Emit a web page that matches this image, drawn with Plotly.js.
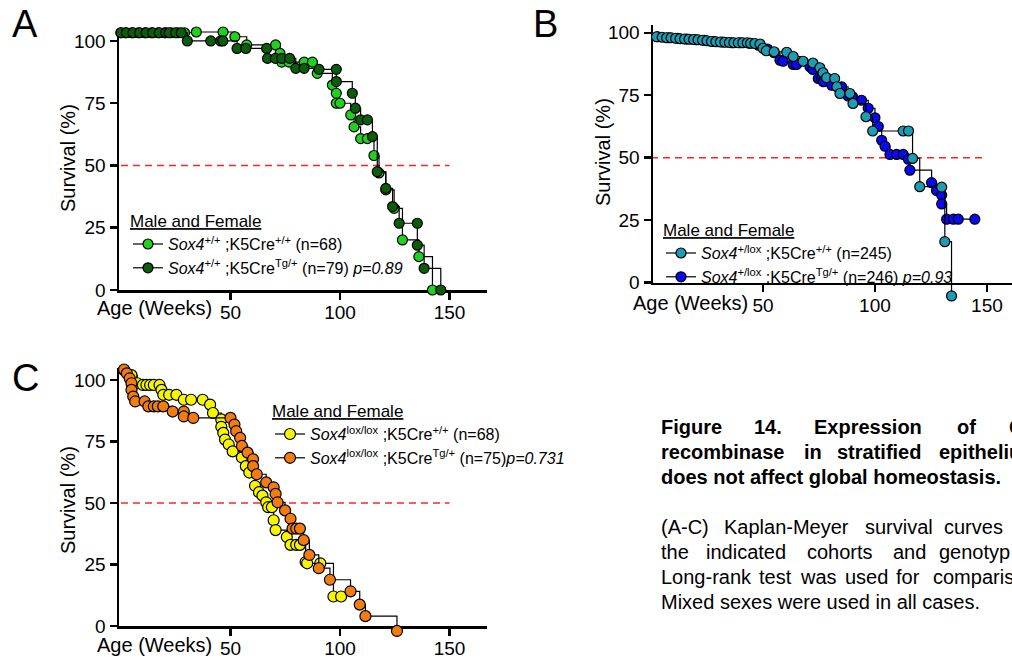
<!DOCTYPE html>
<html>
<head>
<meta charset="utf-8">
<script src="https://cdn.plot.ly/plotly-3.0.1.min.js"></script>
<style>
html,body{margin:0;padding:0;background:#fff;overflow:hidden;}
#chart{width:1012px;height:661px;}
</style>
</head>
<body>
<div id="chart"></div>
<script>
// ---------- Panel A : Sox4+/+ ----------
const aCtrlX = [0,2,5,8,11,14,17,20,23,26,29,34.4,46.6,52,57.4,70.6,72.6,73.4,76.7,83.6,87.4,89.6,96.5,98.3,98.3,100,104.9,106.4,109.4,112.5,115.5,117.8,120.9,124.7,128.5,136,142.2];
const aCtrlY = [103.3,103.3,103.3,103.3,103.3,103.3,103.3,103.3,103.3,103.3,103.3,103.6,103.6,101.7,98.4,98.4,95,91.5,91.5,91.5,91.5,87,82.3,79,75,75,70.3,65.5,60.8,60.8,54,47,40.2,32.8,20.1,13.4,0];
const aCreX = [0,2.5,5.5,8.5,11.5,14.5,17.5,20.5,22,25,27.5,30.3,41,45.5,46.5,53,57,66.5,66.9,70.5,73.4,77,79.8,83.6,90.4,98.3,98.3,105.6,107,109.4,112.5,114.8,117,120.9,124,127,135.3,135.3,138.4,146];
const aCreY = [103.3,103.3,103.3,103.3,103.3,103.3,103.3,103.3,103.3,103.3,103.3,100,100,100,100,97,97,97,93,93,93,93,89,89,88.6,88.6,83.7,79,73,68.3,68.3,61.6,47.5,40.8,33.5,26.8,26.8,18,8.7,0];

// ---------- Panel B : Sox4+/lox ----------
const bCtrlX = [2.5,5,7,9,11,13,15,17,19,21,23,25,27,29,31,33,35,37,39,41,43,44.5,46.4,48.7,50,51.5,55,60.6,63.5,67.9,72.3,75.4,76.8,78.4,82,83,84.4,88.8,90.2,96,99,112.6,115,116.8,120,129.8,131.2,134.2];
const bCtrlY = [98.4,98.2,98,98,97.8,97.6,97.5,97.4,97.3,97.2,97,96.8,96.5,96.4,96.3,96.2,96.1,96,96,96,96,95.8,95.7,95.5,93.8,92.8,92.4,92.2,90.5,88.6,87.9,86,84,82,81.7,78.4,75.7,75.7,71.7,66.4,60.7,60.7,60.7,49.7,38.4,38.2,16.4,-5.3];
const bCreX = [3,8,12,16,20,24,28,32,36,40,44,48,52,55,57.6,59,63.5,65,71,72.3,74.7,76.2,77,80.7,85.1,88,90,94,97,100,101.5,103,104.5,106.7,109.7,112.6,114.9,115.6,125.3,127.5,129.8,129.8,132,135,137.2,144.6];
const bCreY = [98.4,98,97.8,97.5,97.2,97,96.5,96.3,96,96,95.8,95,93.5,92,89,88.6,87.3,87.3,86.4,85.3,81.7,81.5,80.4,79,78.4,74.7,74.4,73,69.8,66,62.5,57,54.6,51.3,51.3,51.3,49.4,45,40,36.9,35,31.5,25.4,25.4,25.4,25.4];

// ---------- Panel C : Sox4lox/lox ----------
const cCtrlX = [1.4,4.8,7.4,10,11.6,13.3,15,17.6,18.5,19.3,22,25.3,28.7,32,37.3,40.7,42,45.8,45.8,46.7,47.5,49.2,51,55.2,57,58.6,61.2,63,64.6,66.3,67.2,68.9,69.7,70.6,75.7,77.4,80,81.7,84.3,85,91,97,100.5];
const cCtrlY = [104,102,98.7,98,98,98,98,98,96,94,94,94,92,92,92,90,86.6,84,81,78.5,75.8,73.8,71,68.5,65,62.4,57,54.4,53,50.3,48.3,48.3,43,39,36.2,33,33,33,26,25.5,25.5,12,12];
const cCreX = [1.4,2.7,4,4.8,4.8,5.6,6.5,10.8,12.5,15,16.8,19.3,23.6,28.7,28.7,33,50,51.8,52.6,54.4,55.2,57.8,60.3,60.3,62,66.3,69.7,70.6,71.5,74.9,77.4,78.3,80,81.7,83.4,86,90.3,95.4,104.8,109,111.6,126];
const cCreY = [104.3,102.7,100.7,98.7,96,93.3,91.3,91.3,89.3,89.3,89.3,89.3,87.2,87.2,85.2,84.6,84.6,81.9,79.2,76.5,73.2,70.5,67.8,65,61.7,58.4,56.4,53.7,50.3,47,43.6,39.6,39.6,39.6,34.9,28.9,23.5,18.8,14.1,8.7,4,-2];

// median survival reference line
const medianX = [0, 150];
const medianY = [50, 50];

const yTicks = [0, 25, 50, 75, 100];
const xTicks = [50, 100, 150];

const names = {
  aCtrl: '<i>Sox4</i><sup>+/+</sup> ;K5Cre<sup>+/+</sup> (n=68)',
  aCre:  '<i>Sox4</i><sup>+/+</sup> ;K5Cre<sup>Tg/+</sup> (n=79) <i>p=0.89</i>',
  bCtrl: '<i>Sox4</i><sup>+/lox</sup> ;K5Cre<sup>+/+</sup> (n=245)',
  bCre:  '<i>Sox4</i><sup>+/lox</sup> ;K5Cre<sup>Tg/+</sup> (n=246) <i>p=0.93</i>',
  cCtrl: '<i>Sox4</i><sup>lox/lox</sup> ;K5Cre<sup>+/+</sup> (n=68)',
  cCre:  '<i>Sox4</i><sup>lox/lox</sup> ;K5Cre<sup>Tg/+</sup> (n=75)<i>p=0.731</i>'
};

const FONT = 'Liberation Sans, Arial, Helvetica, sans-serif';
const W = 1012, H = 661;
const px = v => v / W;
const py = v => 1 - v / H;

// visible frames: pixel box + data range
const frames = {
  A: {l: 119, r: 487, b: 290, t: 33, xr: [-0.9, 167.1], yr: [0, 103.2]},
  B: {l: 653, r: 1012, b: 282.7, t: 25, xr: [0.9, 161.2], yr: [0, 103.1]},
  C: {l: 119, r: 487, b: 626, t: 368, xr: [-0.9, 167.1], yr: [0, 104.9]}
};

function km(x, y, name, color, xa, ya, leg, size, rank) {
  return {
    type: 'scatter', mode: 'lines+markers', x: x, y: y, name: name,
    xaxis: xa, yaxis: ya, legend: leg, legendrank: rank,
    line: {color: '#000', width: 1.2, shape: 'hv'},
    marker: {color: color, size: size, line: {color: '#000', width: 1.2}},
    cliponaxis: false, hoverinfo: 'skip'
  };
}
function med(xa, ya) {
  return {type: 'scatter', mode: 'lines', x: medianX, y: medianY, xaxis: xa, yaxis: ya,
    line: {color: '#ff2424', width: 1.6, dash: '7px,5px'}, showlegend: false, hoverinfo: 'skip', cliponaxis: false};
}

const traces = [
  med('x', 'y'), med('x2', 'y2'), med('x3', 'y3'),
  km(aCtrlX, aCtrlY, names.aCtrl, '#1ed21e', 'x4', 'y4', 'legend', 10, 1),
  km(aCreX, aCreY, names.aCre, '#0b5c0b', 'x4', 'y4', 'legend', 10, 2),
  km(bCreX, bCreY, names.bCre, '#0a0af2', 'x5', 'y5', 'legend2', 10, 2),
  km(bCtrlX, bCtrlY, names.bCtrl, '#1c9db3', 'x5', 'y5', 'legend2', 10, 1),
  km(cCtrlX, cCtrlY, names.cCtrl, '#f6f600', 'x6', 'y6', 'legend3', 11, 1),
  km(cCreX, cCreY, names.cCre, '#f27c12', 'x6', 'y6', 'legend3', 11, 2)
];

const tickFont = {family: FONT, size: 19, color: '#000'};
function xax(f, anchor) {
  return {domain: [px(f.l), px(f.r)], range: f.xr, tickvals: xTicks, ticks: 'outside', ticklen: 7, tickwidth: 2.5,
    tickcolor: '#000', showline: true, linewidth: 2.5, linecolor: '#000', showgrid: false,
    zeroline: false, tickfont: tickFont, ticklabelstandoff: -3, anchor: anchor, fixedrange: true};
}
function yax(f, anchor) {
  return {domain: [py(f.b), py(f.t)], range: f.yr, tickvals: yTicks, ticks: 'outside', ticklen: 7, tickwidth: 2.5,
    tickcolor: '#000', showline: true, linewidth: 2.5, linecolor: '#000', showgrid: false,
    zeroline: false, tickfont: tickFont, anchor: anchor, fixedrange: true};
}
// invisible data axes with identical scale but a wider box, so points just outside the frame still show
function hidX(f, anchor, ml, mr) {
  const k = (f.r - f.l) / (f.xr[1] - f.xr[0]);
  return {visible: false, anchor: anchor, fixedrange: true,
    domain: [px(f.l - ml), Math.min(1, px(f.r + mr))],
    range: [f.xr[0] - ml / k, f.xr[1] + (Math.min(W, f.r + mr) - f.r) / k]};
}
function hidY(f, anchor, mb, mt) {
  const k = (f.b - f.t) / (f.yr[1] - f.yr[0]);
  return {visible: false, anchor: anchor, fixedrange: true,
    domain: [py(f.b + mb), py(f.t - mt)],
    range: [f.yr[0] - mb / k, f.yr[1] + mt / k]};
}
function legendAt(x, y) {
  return {x: px(x), y: py(y), xanchor: 'left', yanchor: 'top', bgcolor: 'rgba(0,0,0,0)',
    borderwidth: 0, tracegroupgap: 0, traceorder: 'normal',
    font: {family: FONT, size: 16, color: '#000'},
    title: {text: 'Male and Female', font: {family: FONT, size: 17, color: '#000', lineposition: 'under'}}};
}

const ann = [];
function txt(t, x, y, size, opts) {
  ann.push(Object.assign({text: t, x: px(x), y: py(y), xref: 'paper', yref: 'paper', showarrow: false,
    xanchor: 'center', yanchor: 'middle', font: {family: FONT, size: size, color: '#000'}}, opts || {}));
}
// panel letters
txt('A', 25, 24, 38); txt('B', 545, 24, 38); txt('C', 25, 378, 38);
// axis titles
txt('Survival (%)', 68, 158, 20, {textangle: -90});
txt('Survival (%)', 603, 152, 20, {textangle: -90});
txt('Survival (%)', 68, 500, 20, {textangle: -90});
txt('Age (Weeks)', 154, 308, 20);
txt('Age (Weeks)', 690, 303, 20);
txt('Age (Weeks)', 154, 645, 20);

// caption (justified lines placed word by word)
const capLines = [
  {y: 426.7, b: true, w: [['Figure', 659.3], ['14.', 751.7], ['Expression', 812.3], ['of', 955], ['C', 1006.7]]},
  {y: 451.7, b: true, w: [['recombinase', 659.3], ['in', 801.7], ['stratified', 835], ['epitheliu', 936.7]]},
  {y: 476.7, b: true, w: [['does not affect global homeostasis.', 659.3]]},
  {y: 526.7, b: false, w: [['(A-C)', 659.3], ['Kaplan-Meyer', 721.7], ['survival', 863.3], ['curves', 941.7]]},
  {y: 551.7, b: false, w: [['the', 659.3], ['indicated', 704.3], ['cohorts', 805], ['and', 891], ['genotyp', 937.3]]},
  {y: 576.7, b: false, w: [['Long-rank', 659.3], ['test', 757], ['was', 798], ['used', 843], ['for', 894], ['comparis', 931]]},
  {y: 601.7, b: false, w: [['Mixed sexes were used in all cases.', 659.3]]}
];
capLines.forEach(l => l.w.forEach(w => {
  txt(l.b ? '<b>' + w[0] + '</b>' : w[0], w[1], l.y, 20, {xanchor: 'left'});
}));

const layout = {
  width: W, height: H, autosize: false,
  margin: {l: 0, r: 0, t: 0, b: 0, pad: 0},
  paper_bgcolor: '#fff', plot_bgcolor: 'rgba(0,0,0,0)',
  font: {family: FONT, color: '#000'},
  showlegend: true,
  xaxis: xax(frames.A, 'y'), yaxis: yax(frames.A, 'x'),
  xaxis2: xax(frames.B, 'y2'), yaxis2: yax(frames.B, 'x2'),
  xaxis3: xax(frames.C, 'y3'), yaxis3: yax(frames.C, 'x3'),
  xaxis4: hidX(frames.A, 'y4', 20, 20), yaxis4: hidY(frames.A, 'x4', 20, 20),
  xaxis5: hidX(frames.B, 'y5', 20, 0), yaxis5: hidY(frames.B, 'x5', 20, 20),
  xaxis6: hidX(frames.C, 'y6', 20, 20), yaxis6: hidY(frames.C, 'x6', 20, 20),
  legend: legendAt(128, 205),
  legend2: legendAt(661, 214),
  legend3: legendAt(270, 395),
  annotations: ann
};

Plotly.newPlot('chart', traces, layout, {staticPlot: true, displayModeBar: false});
</script>
</body>
</html>
